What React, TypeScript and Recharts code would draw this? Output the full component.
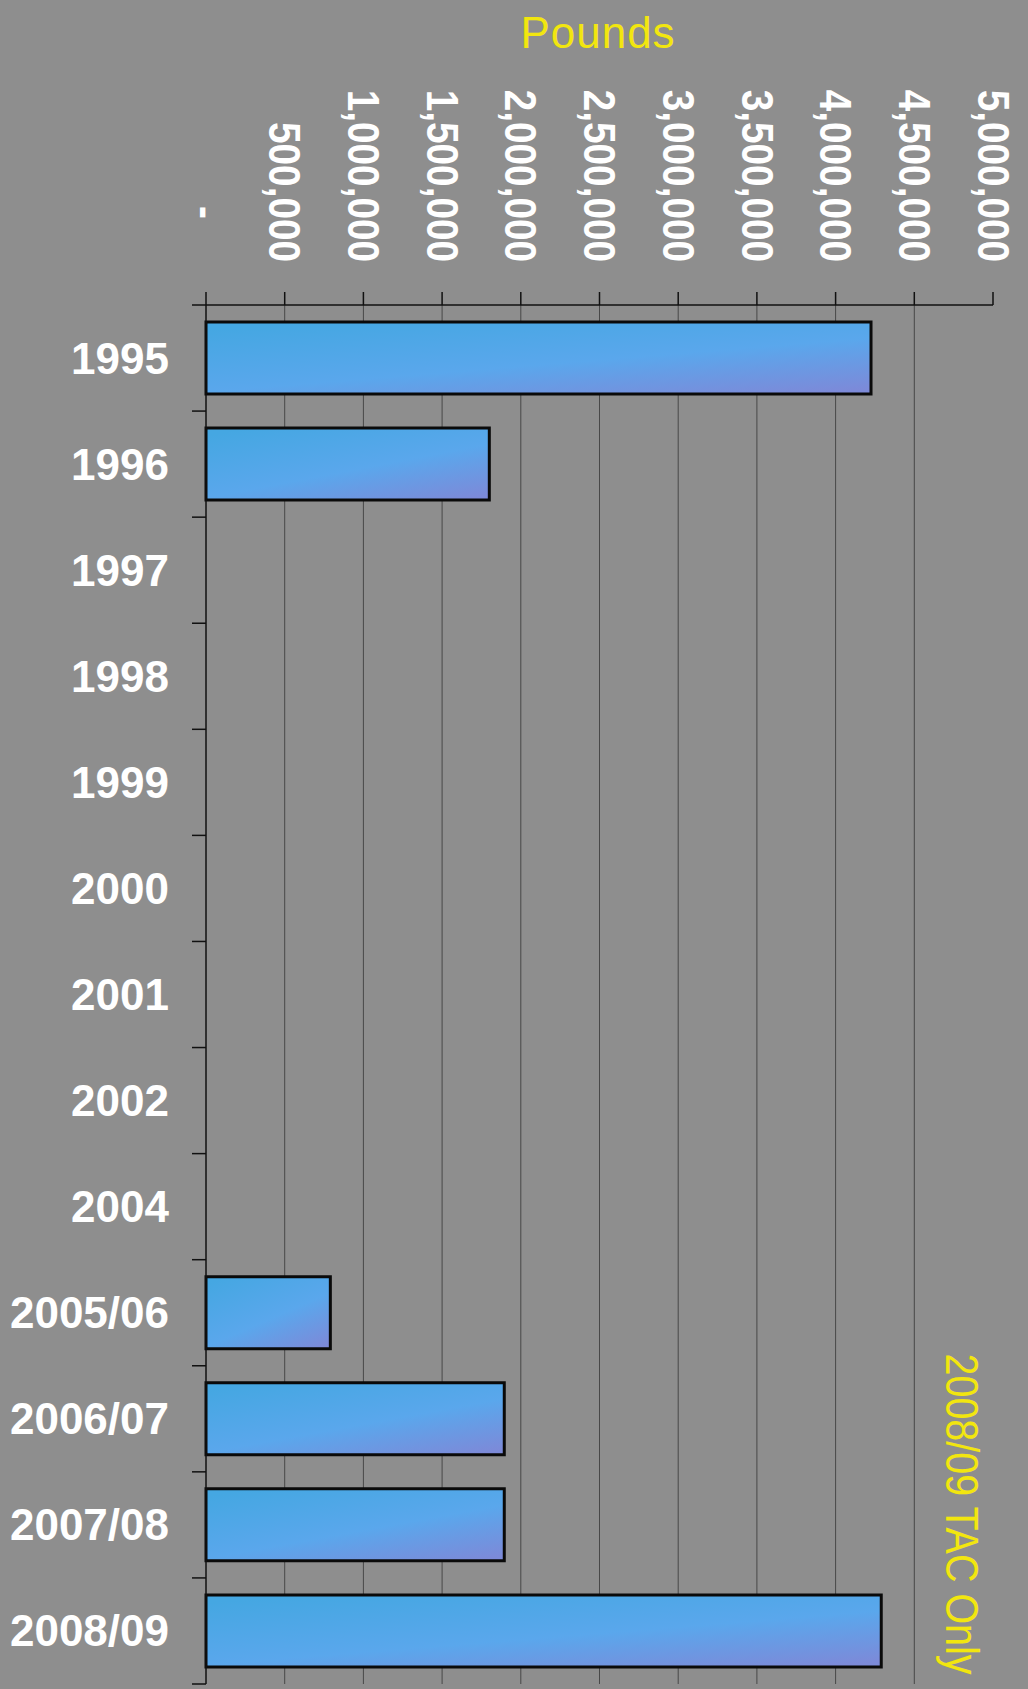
import React from 'react';
import { BarChart, Bar, XAxis, YAxis, CartesianGrid } from 'recharts';

// season labels, top to bottom
const YEARS = [
  '1995', '1996', '1997', '1998', '1999', '2000', '2001',
  '2002', '2004', '2005/06', '2006/07', '2007/08', '2008/09',
];

// pounds per season (null = no bar shown)
const POUNDS = [
  4225000, 1800000, null, null, null, null, null,
  null, null, 790000, 1895000, 1895000, 4290000,
];

const X_TICKS = [
  0, 500000, 1000000, 1500000, 2000000, 2500000,
  3000000, 3500000, 4000000, 4500000, 5000000,
];
const GRID_VALUES = X_TICKS.slice(1, -1);

const CHART_W = 1028;
const CHART_H = 1689;
const MARGIN = { top: 0, right: 35, bottom: 5, left: 0 };
const X_AXIS_H = 305;
const Y_AXIS_W = 206;
const BAND = (CHART_H - MARGIN.top - MARGIN.bottom - X_AXIS_H) / YEARS.length;

const FONT = '"Liberation Sans", Arial, sans-serif';
const YELLOW = '#f2e60f';

const data = YEARS.map((year, i) => ({ year, pounds: POUNDS[i] }));

// accounting style: zero shows as a dash with trailing padding
const fmt = (v: number) =>
  v === 0 ? '-\u00a0\u00a0\u00a0\u00a0' : v.toLocaleString('en-US');

const XTick = ({ x, y, payload }: any) => (
  <g transform={`translate(${x},${y - 28}) rotate(90)`}>
    <text
      transform="scale(0.88,1)"
      textAnchor="end"
      dominantBaseline="central"
      fill="#ffffff"
      fontSize={44}
      fontWeight="bold"
      fontFamily={FONT}
    >
      {fmt(payload.value)}
    </text>
  </g>
);

const YTick = ({ x, y, payload }: any) => {
  const last = payload.value === YEARS[YEARS.length - 1];
  return (
    <g>
      <line x1={x - 14} x2={x} y1={y - BAND / 2} y2={y - BAND / 2} stroke="#111" strokeWidth={1.5} />
      {last && (
        <line x1={x - 14} x2={x} y1={y + BAND / 2} y2={y + BAND / 2} stroke="#111" strokeWidth={1.5} />
      )}
      <text
        x={x - 37}
        y={y}
        textAnchor="end"
        dominantBaseline="central"
        fill="#ffffff"
        fontSize={44}
        fontWeight="bold"
        fontFamily={FONT}
      >
        {payload.value}
      </text>
    </g>
  );
};

export default function App() {
  return (
    <div
      style={{
        position: 'absolute',
        left: 0,
        top: 0,
        width: CHART_W,
        height: CHART_H,
        background: '#8e8e8e',
      }}
    >
      <BarChart width={CHART_W} height={CHART_H} data={data} layout="vertical" margin={MARGIN}>
        <CartesianGrid horizontal={false} verticalValues={GRID_VALUES} stroke="#484848" strokeWidth={1} />
        <XAxis
          type="number"
          orientation="top"
          height={X_AXIS_H}
          domain={[0, 5000000]}
          ticks={X_TICKS}
          interval={0}
          tickSize={13}
          axisLine={{ stroke: '#111', strokeWidth: 1.5 }}
          tickLine={{ stroke: '#111', strokeWidth: 1.5 }}
          tick={<XTick />}
        />
        <YAxis
          type="category"
          dataKey="year"
          width={Y_AXIS_W}
          interval={0}
          tickSize={0}
          tickMargin={0}
          tickLine={false}
          axisLine={{ stroke: '#111', strokeWidth: 1.5 }}
          tick={<YTick />}
        />
        <Bar
          dataKey="pounds"
          fill="url(#barFill)"
          stroke="#0a0a0a"
          strokeWidth={3}
          barSize={72}
          isAnimationActive={false}
        />
      </BarChart>
      <svg
        width={CHART_W}
        height={CHART_H}
        style={{ position: 'absolute', left: 0, top: 0, pointerEvents: 'none' }}
      >
        <defs>
          <linearGradient id="barFill" x1="0.15" y1="0" x2="0.9" y2="1">
            <stop offset="0%" stopColor="#45a7e2" />
            <stop offset="55%" stopColor="#5aa7ec" />
            <stop offset="100%" stopColor="#7c8ad9" />
          </linearGradient>
        </defs>
        <text
          x={598}
          y={32}
          textAnchor="middle"
          dominantBaseline="central"
          fill={YELLOW}
          fontSize={44}
          letterSpacing={1}
          fontFamily={FONT}
        >
          Pounds
        </text>
        <g transform="translate(962,1514) rotate(90)">
          <text
            transform="scale(0.84,1)"
            textAnchor="middle"
            dominantBaseline="central"
            fill={YELLOW}
            fontSize={47}
            fontFamily={FONT}
          >
            2008/09 TAC Only
          </text>
        </g>
      </svg>
    </div>
  );
}
